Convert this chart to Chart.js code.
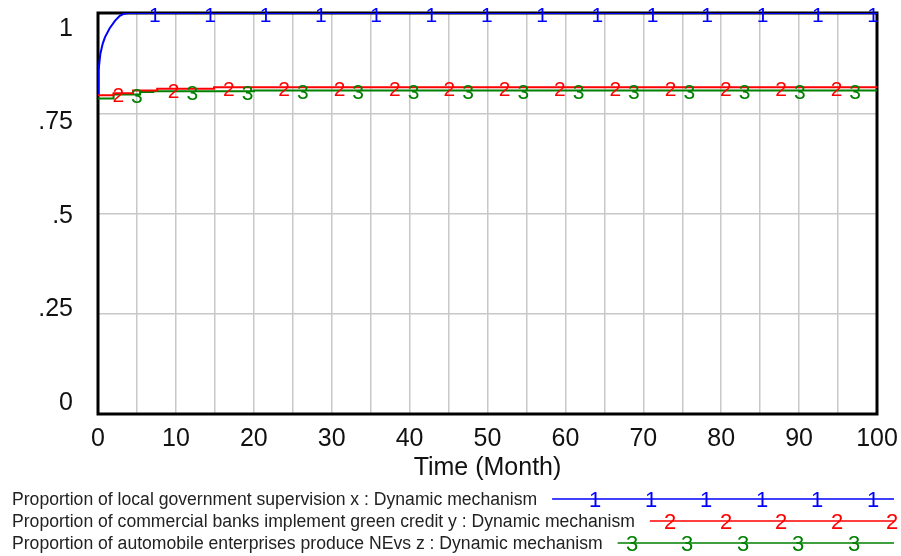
<!DOCTYPE html>
<html><head><meta charset="utf-8">
<script src="https://cdn.jsdelivr.net/npm/chart.js@4.4.0/dist/chart.umd.min.js"></script>
<style>html,body{margin:0;padding:0;background:#fff;overflow:hidden}#wrap{width:901px;height:556px;position:relative}</style>
</head><body><div id="wrap"><canvas id="c" width="901" height="556"></canvas></div>
<script>
// ---- data ----
const seriesNames = [
  'Proportion of local government supervision x : Dynamic mechanism',
  'Proportion of commercial banks implement green credit y : Dynamic mechanism',
  'Proportion of automobile enterprises produce NEvs z : Dynamic mechanism'
];
const seriesDigits = ['1', '2', '3'];
const seriesColors = ['#0000ff', '#ff0000', '#008000'];

const timeX  = [0, 0.07, 0.3, 0.6, 0.9, 1.5, 2.2, 2.8, 3.3, 4, 100];
const valuesX = [0.80, 0.857, 0.898, 0.923, 0.94, 0.962, 0.981, 0.993, 0.998, 1.0, 1.0];

const timeY  = [0, 2, 4.5, 7.6, 14.9, 100];
const valuesY = [0.795, 0.800, 0.807, 0.811, 0.815, 0.815];

const timeZ  = [0, 2, 5.4, 7.1, 20, 100];
const valuesZ = [0.787, 0.797, 0.803, 0.805, 0.807, 0.807];

const markerTimesX = [7.3, 14.4, 21.5, 28.6, 35.7, 42.8, 49.9, 57.0, 64.1, 71.2, 78.2, 85.3, 92.4, 99.5];
const markerTimesY = [2.6, 9.7, 16.8, 23.9, 31.0, 38.1, 45.1, 52.2, 59.3, 66.4, 73.5, 80.6, 87.7, 94.8];
const markerTimesZ = [5.0, 12.1, 19.2, 26.3, 33.4, 40.5, 47.5, 54.6, 61.7, 68.8, 75.9, 83.0, 90.1, 97.2];

const xTickLabels = ['0', '10', '20', '30', '40', '50', '60', '70', '80', '90', '100'];
const yTickValues = [0, 0.25, 0.5, 0.75, 1];
const yTickLabels = ['0', '.25', '.5', '.75', '1'];
const xTitle = 'Time (Month)';

// ---- build ----
const FONT = '"Liberation Sans", Arial, sans-serif';
const toPts = (ts, vs) => ts.map((t, i) => ({x: t, y: vs[i]}));
const allMarkers = [markerTimesX, markerTimesY, markerTimesZ];
const legendMarkerX = [
  [595, 651, 706, 762, 817, 873],
  [670, 726, 781, 837, 892],
  [632, 687, 743, 798, 854]
];

function valueAt(ds, t) {
  const d = ds.data;
  if (ds.stepped) {
    let v = d[0].y;
    for (const p of d) { if (p.x <= t) v = p.y; }
    return v;
  }
  for (let i = 1; i < d.length; i++) {
    if (t <= d[i].x) {
      const a = d[i - 1], b = d[i];
      return a.y + (b.y - a.y) * (t - a.x) / (b.x - a.x);
    }
  }
  return d[d.length - 1].y;
}

const vensimPlugin = {
  id: 'vensim',
  beforeDatasetsDraw(chart) {
    const {ctx, chartArea: a} = chart;
    ctx.save();
    ctx.strokeStyle = '#000';
    ctx.lineWidth = 3;
    ctx.strokeRect(a.left, a.top, a.right - a.left, a.bottom - a.top);
    ctx.restore();
  },
  afterDatasetsDraw(chart) {
    const {ctx} = chart;
    const xs = chart.scales.x, ys = chart.scales.y;
    ctx.save();
    ctx.font = '21px ' + FONT;
    ctx.textAlign = 'center';
    ctx.textBaseline = 'middle';
    chart.data.datasets.forEach((ds, i) => {
      ctx.fillStyle = ds.borderColor;
      allMarkers[i].forEach(t => {
        ctx.fillText(seriesDigits[i], xs.getPixelForValue(t), ys.getPixelForValue(valueAt(ds, t)) + 3);
      });
    });
    ctx.restore();
  },
  afterDraw(chart) {
    const {ctx, chartArea: a} = chart;
    const ys = chart.scales.y;
    ctx.save();
    // y tick labels (Vensim spreads them between top+15 and bottom-12)
    ctx.font = '25px ' + FONT;
    ctx.fillStyle = '#111';
    ctx.textAlign = 'right';
    ctx.textBaseline = 'middle';
    const yTop = a.top + 15, yBot = a.bottom - 12;
    yTickValues.forEach((v, i) => {
      const f = (v - ys.min) / (ys.max - ys.min);
      ctx.fillText(yTickLabels[i], 73, yBot - f * (yBot - yTop) + 1);
    });
    // legend
    const rowsY = [499, 521, 543];
    seriesNames.forEach((name, i) => {
      const y = rowsY[i];
      ctx.font = '17.6px ' + FONT;
      ctx.fillStyle = '#222';
      ctx.textAlign = 'left';
      ctx.textBaseline = 'middle';
      ctx.fillText(name, 12, y + 1);
      const w = ctx.measureText(name).width;
      ctx.strokeStyle = seriesColors[i];
      ctx.lineWidth = 1.5;
      ctx.beginPath();
      ctx.moveTo(12 + w + 15, y);
      ctx.lineTo(894, y);
      ctx.stroke();
      ctx.font = '22px ' + FONT;
      ctx.fillStyle = seriesColors[i];
      ctx.textAlign = 'center';
      legendMarkerX[i].forEach(x => ctx.fillText(seriesDigits[i], x, y + 2));
    });
    ctx.restore();
  }
};

new Chart(document.getElementById('c'), {
  type: 'line',
  data: {
    datasets: [
      {label: seriesNames[0], data: toPts(timeX, valuesX), borderColor: seriesColors[0], borderWidth: 2, pointRadius: 0, tension: 0, fill: false},
      {label: seriesNames[1], data: toPts(timeY, valuesY), borderColor: seriesColors[1], borderWidth: 2, pointRadius: 0, stepped: 'before', fill: false},
      {label: seriesNames[2], data: toPts(timeZ, valuesZ), borderColor: seriesColors[2], borderWidth: 2, pointRadius: 0, stepped: 'before', fill: false}
    ]
  },
  options: {
    responsive: false,
    animation: false,
    layout: {padding: {left: 0, right: 24, top: 13, bottom: 73}},
    plugins: {legend: {display: false}, tooltip: {enabled: false}},
    scales: {
      x: {
        type: 'linear', min: 0, max: 100,
        border: {display: false},
        grid: {color: '#c8c8c8', lineWidth: 1.5, drawTicks: false},
        ticks: {
          stepSize: 5, autoSkip: false, maxRotation: 0, padding: 10,
          color: '#111', font: {family: FONT, size: 25},
          callback: v => (v % 10 === 0 ? xTickLabels[v / 10] : '')
        },
        title: {display: true, text: xTitle, color: '#111', font: {family: FONT, size: 25}, padding: {top: 0, bottom: 0}},
        afterFit: s => { s.height = 69; s.paddingLeft = 0; s.paddingRight = 0; }
      },
      y: {
        type: 'linear', min: 0, max: 1,
        border: {display: false},
        grid: {color: '#c8c8c8', lineWidth: 1.5, drawTicks: false},
        ticks: {stepSize: 0.25, display: false},
        afterFit: s => { s.width = 98; s.paddingTop = 0; s.paddingBottom = 0; }
      }
    }
  },
  plugins: [vensimPlugin]
});
</script>
</body></html>
